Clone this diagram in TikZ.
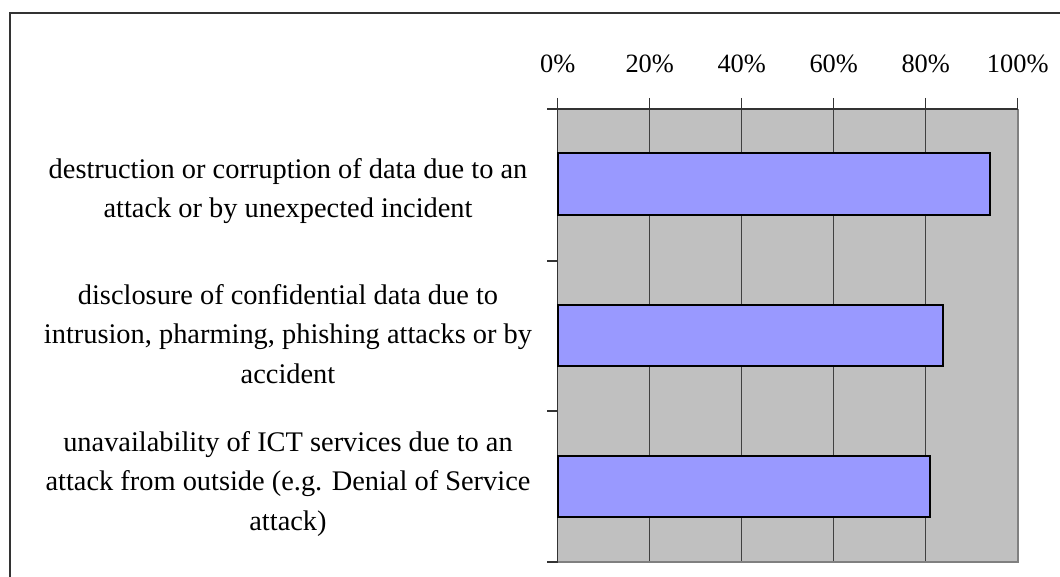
\documentclass[tikz,border=0pt]{standalone}
\usepackage{fontspec}
\setmainfont{Liberation Serif}
\definecolor{plotbg}{HTML}{C0C0C0}
\definecolor{barfill}{HTML}{9999FF}
\definecolor{framec}{HTML}{333333}
\definecolor{edgegray}{HTML}{808080}
\tikzset{
  lbl/.style={align=center, inner sep=0pt, font=\fontsize{28.5}{40}\selectfont},
  ticklbl/.style={anchor=base, inner sep=0pt, font=\fontsize{26.5}{30}\selectfont},
  barbox/.style={draw=black, line width=2bp, fill=barfill},
  grid/.style={draw=black!75, line width=1.2bp},
  axis/.style={draw=black!80, line width=1.2bp}
}
\begin{document}
\begin{tikzpicture}[x=1bp,y=-1bp]
\useasboundingbox (0,0) rectangle (1060,577);
\clip (0,0) rectangle (1060,577);
% outer chart frame (extends past the image)
\draw[framec, line width=1.6bp] (10,600) -- (10,13) -- (1080,13);
% plot area
\fill[plotbg] (557.7,109) rectangle (1017.6,562);
% vertical gridlines
\foreach \i in {1,...,4} {
  \draw[grid] ({557.7+92*\i},109) -- ({557.7+92*\i},562);
}
% right/bottom gray border
\draw[edgegray, line width=2bp] (557.7,562) -- (1017.6,562) -- (1017.6,109);
% top axis with ticks
\draw[axis] (547,109) -- (1017.6,109);
\foreach \i in {0,...,5} {
  \draw[axis] ({557.7+92*\i},98) -- ({557.7+92*\i},109);
}
% left axis with ticks
\draw[axis] (557.7,109) -- (557.7,562);
\foreach \y in {261,411,562} {
  \draw[axis] (547,\y) -- (557.7,\y);
}
% bars
\draw[barbox] (557.7,153) rectangle (990,215);
\draw[barbox] (557.7,305) rectangle (943.3,365.5);
\draw[barbox] (557.7,455.5) rectangle (930,517);
% tick labels
\node[ticklbl] (t0) at (557.7,73) {0\%};
\node[ticklbl] (t1) at (649.7,73) {20\%};
\node[ticklbl] (t2) at (741.7,73) {40\%};
\node[ticklbl] (t3) at (833.7,73) {60\%};
\node[ticklbl] (t4) at (925.7,73) {80\%};
\node[ticklbl] (t5) at (1017.7,73) {100\%};
% category labels
\node[lbl] (c1) at (288,191) {destruction or corruption of data due to an\\attack or by unexpected incident};
\node[lbl] (c2) at (288,334) {disclosure of confidential data due to\\intrusion, pharming, phishing attacks or by\\accident};
\node[lbl] (c3) at (288,484) {unavailability of ICT services due to an\\attack from outside (e.g. Denial of Service\\attack)};
\end{tikzpicture}
\end{document}
